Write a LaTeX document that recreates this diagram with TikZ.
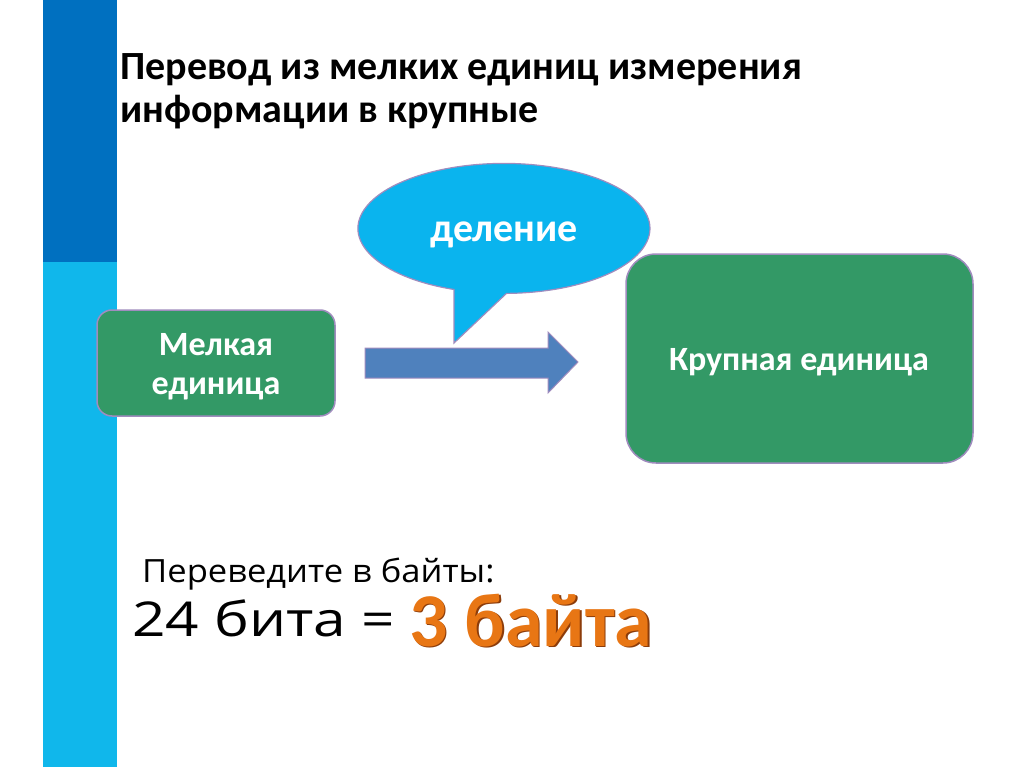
\documentclass[tikz,border=0pt]{standalone}
\usepackage{fontspec}
\setmainfont{Carlito}
\newfontfamily\gothic{Open Sans}
\usetikzlibrary{shapes.geometric}
\definecolor{bardark}{RGB}{0,112,192}
\definecolor{barlight}{RGB}{16,183,235}
\definecolor{boxgreen}{RGB}{51,153,102}
\definecolor{edgepurple}{RGB}{160,140,190}
\definecolor{bubble}{RGB}{10,180,238}
\definecolor{arrowblue}{RGB}{79,129,189}
\definecolor{orangetxt}{RGB}{232,118,20}
\definecolor{orangeshadow}{RGB}{140,60,10}
\tikzset{
  unitbox/.style={draw=edgepurple, line width=1.5pt, fill=boxgreen, rounded corners=#1},
  whitetxt/.style={text=white, font=\bfseries\fontsize{34}{40}\selectfont, align=center, inner sep=0pt},
  titletxt/.style={anchor=base west, inner sep=0pt, font=\bfseries\fontsize{40}{43}\selectfont},
}
\begin{document}
\begin{tikzpicture}[x=1pt,y=1pt]
\useasboundingbox (0,0) rectangle (1024,-767);
\fill[white] (0,0) rectangle (1024,-767);
% side bar
\fill[bardark] (43,0) rectangle (117,-262);
\fill[barlight] (43,-262) rectangle (117,-767);
% title
\node[titletxt] (t1) at (120,-80) {Перевод из мелких единиц измерения};
\node[titletxt] (t2) at (120,-123) {информации в крупные};
% boxes
\draw[unitbox=15pt] (97,-310) rectangle (335,-416);
\node[whitetxt, anchor=base] (small1) at (216,-355) {Мелкая};
\node[whitetxt, anchor=base] (small2) at (216,-394) {единица};
\draw[unitbox=30pt] (626,-254) rectangle (973,-463);
\node[whitetxt, anchor=base] (big) at (799,-370) {Крупная единица};
% block arrow
\draw[fill=arrowblue, draw=edgepurple, line width=1pt] (365,-348) -- (548,-348) -- (548,-332) -- (578,-362) -- (548,-393) -- (548,-378) -- (365,-378) -- cycle;
% callout
\draw[fill=bubble, draw=edgepurple, line width=1.2pt] (454,-343) -- (454,-289.5) arc[start angle=250, end angle=-89, x radius=146, y radius=65] -- cycle;
\node[whitetxt, anchor=base, font=\bfseries\fontsize{40}{40}\selectfont] (div) at (504,-241) {деление};
% exercise
\node[anchor=base west, inner sep=0pt, font=\gothic\fontsize{32}{36}\selectfont] (q) at (142,-582) {\scalebox{1.08}[1]{Переведите в байты:}};
\node[anchor=base west, inner sep=0pt, font=\gothic\fontsize{48}{50}\selectfont] (eq) at (132,-636) {\scalebox{1.22}[1]{24 бита =}};
\node[anchor=base west, inner sep=0pt, text=orangeshadow, font=\bfseries\fontsize{76}{80}\selectfont] at (410.5,-647.5) {3 байта};
\node[anchor=base west, inner sep=0pt, text=orangetxt, font=\bfseries\fontsize{76}{80}\selectfont] (ans) at (409,-646) {3 байта};
\end{tikzpicture}
\end{document}
